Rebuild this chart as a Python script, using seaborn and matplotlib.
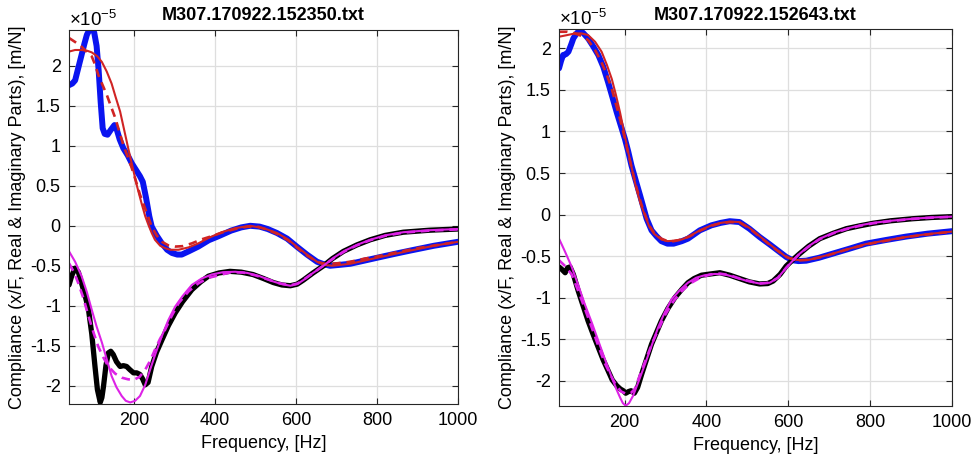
import numpy as np
import matplotlib
matplotlib.use("Agg")
import matplotlib.pyplot as plt
import seaborn as sns
from matplotlib.ticker import FuncFormatter, FixedLocator

# ---------------- data (compliance values in units of 1e-5 m/N) ----------------
# left file: M307.170922.152350.txt
L_titl = "M307.170922.152350.txt"

L_meas_re_f = [40, 48, 55, 63, 71, 78, 84, 90, 96, 102, 108, 113, 118, 123, 128, 135, 143, 152, 158, 165,
               174, 185, 195, 205, 215, 222, 230, 238, 244, 256, 269, 282, 294, 307, 318, 335, 359, 385, 409,
               440, 465, 487, 510, 530, 553, 578, 602, 627, 652, 668, 684, 705, 734, 765, 800, 840, 882, 940, 1000]
L_meas_re = [1.76, 1.78, 1.82, 1.98, 2.14, 2.28, 2.39, 2.45, 2.46, 2.42, 2.25, 1.95, 1.55, 1.22, 1.15, 1.14,
             1.20, 1.26, 1.20, 1.08, 0.97, 0.88, 0.78, 0.70, 0.62, 0.55, 0.35, 0.12, -0.01, -0.12, -0.22, -0.30,
             -0.34, -0.36, -0.36, -0.32, -0.26, -0.18, -0.13, -0.06, -0.02, 0.0, -0.01, -0.04, -0.09, -0.16,
             -0.26, -0.36, -0.45, -0.48, -0.50, -0.49, -0.475, -0.44, -0.40, -0.355, -0.31, -0.25, -0.20]

L_fit_re_f = [40, 55, 70, 85, 96, 110, 121, 133, 145, 155, 166, 176, 186, 197, 207, 219, 228, 236, 244, 252,
              265, 277, 290, 310, 335, 359, 385, 417, 450, 487, 520, 553, 580, 602, 627, 652, 670, 690, 734,
              800, 882, 940, 1000]
L_fit_re = [2.18, 2.20, 2.20, 2.19, 2.17, 2.12, 2.05, 1.93, 1.78, 1.61, 1.43, 1.20, 0.97, 0.73, 0.51, 0.28,
            0.12, 0.01, -0.09, -0.175, -0.25, -0.28, -0.30, -0.30, -0.27, -0.22, -0.15, -0.08, -0.03, 0.0,
            -0.03, -0.09, -0.17, -0.26, -0.36, -0.45, -0.49, -0.50, -0.475, -0.40, -0.31, -0.25, -0.20]

L_fit2_re_f = [40, 55, 71, 85, 96, 104, 112, 122, 133, 143, 154, 164, 174, 185, 195, 205, 215, 226, 236, 244,
               256, 269, 285, 302, 320, 343, 367, 392, 420, 450, 480, 505, 530, 553, 580, 602, 627, 652, 675,
               700, 734, 770, 800, 850, 900, 950, 1000]
L_fit2_re = [2.35, 2.30, 2.24, 2.17, 2.12, 2.02, 1.89, 1.77, 1.64, 1.50, 1.35, 1.18, 1.01, 0.86, 0.72, 0.56,
             0.39, 0.24, 0.10, -0.01, -0.12, -0.20, -0.245, -0.26, -0.255, -0.22, -0.17, -0.13, -0.08, -0.04,
             -0.01, -0.01, -0.05, -0.10, -0.18, -0.27, -0.37, -0.45, -0.48, -0.47, -0.45, -0.41, -0.385,
             -0.33, -0.28, -0.24, -0.20]

L_meas_im_f = [40, 47, 55, 63, 71, 80, 88, 96, 104, 110, 117, 121, 125, 131, 137, 143, 149, 157, 166, 174,
               182, 190, 199, 207, 215, 222, 228, 235, 244, 256, 269, 285, 302, 320, 343, 365, 384, 410, 437,
               465, 494, 520, 544, 565, 586, 603, 618, 642, 668, 690, 717, 750, 783, 820, 865, 930, 1000]
L_meas_im = [-0.74, -0.62, -0.53, -0.58, -0.72, -0.88, -1.05, -1.35, -1.76, -2.05, -2.21, -2.15, -2.01, -1.75,
             -1.59, -1.57, -1.61, -1.70, -1.76, -1.75, -1.76, -1.80, -1.84, -1.84, -1.86, -1.92, -1.99, -1.96,
             -1.76, -1.58, -1.43, -1.25, -1.09, -0.95, -0.80, -0.70, -0.63, -0.59, -0.57, -0.58, -0.61, -0.66,
             -0.71, -0.74, -0.75, -0.73, -0.68, -0.59, -0.50, -0.41, -0.32, -0.24, -0.175, -0.12, -0.08,
             -0.055, -0.04]

L_fit_im_f = [40, 55, 71, 84, 96, 108, 121, 133, 145, 157, 170, 180, 191, 203, 215, 228, 240, 254, 269, 285,
              302, 320, 343, 367, 392, 420, 450, 480, 510, 540, 565, 586, 603, 618, 642, 668, 690, 717, 750,
              783, 820, 865, 930, 1000]
L_fit_im = [-0.32, -0.45, -0.63, -0.83, -1.05, -1.26, -1.46, -1.67, -1.88, -2.02, -2.13, -2.19, -2.21, -2.19,
            -2.13, -1.99, -1.80, -1.59, -1.38, -1.18, -1.01, -0.88, -0.74, -0.66, -0.61, -0.58, -0.575, -0.59,
            -0.63, -0.69, -0.73, -0.75, -0.73, -0.68, -0.59, -0.50, -0.41, -0.32, -0.24, -0.175, -0.12, -0.08,
            -0.055, -0.04]

L_fit2_im_f = [40, 52, 63, 75, 88, 100, 112, 125, 137, 154, 170, 185, 199, 214, 228, 240, 252, 264, 277, 293,
               310, 335, 359, 385, 409, 440, 470, 500, 530, 560, 586, 605, 620, 645, 670, 695, 720, 750, 783,
               820, 865, 930, 1000]
L_fit2_im = [-0.47, -0.58, -0.72, -0.90, -1.13, -1.33, -1.51, -1.65, -1.76, -1.85, -1.90, -1.92, -1.93, -1.89,
             -1.80, -1.69, -1.55, -1.42, -1.30, -1.13, -0.97, -0.82, -0.72, -0.65, -0.62, -0.58, -0.585, -0.62,
             -0.67, -0.72, -0.745, -0.72, -0.67, -0.58, -0.49, -0.40, -0.32, -0.245, -0.18, -0.125, -0.085,
             -0.06, -0.045]

# right file: M307.170922.152643.txt
R_titl = "M307.170922.152643.txt"

R_meas_re_f = [40, 45, 50, 57, 63, 70, 75, 83, 91, 100, 111, 124, 136, 148, 160, 170, 181, 191, 201, 209, 217,
               228, 238, 246, 254, 266, 278, 290, 305, 320, 340, 355, 384, 412, 435, 457, 481, 505, 530, 555,
               579, 595, 611, 625, 644, 675, 709, 750, 790, 840, 888, 940, 1000]
R_meas_re = [1.76, 1.85, 1.92, 1.93, 1.96, 2.05, 2.12, 2.18, 2.22, 2.18, 2.12, 2.02, 1.92, 1.78, 1.59, 1.42,
             1.23, 1.07, 0.91, 0.76, 0.59, 0.40, 0.23, 0.09, -0.05, -0.19, -0.26, -0.32, -0.35, -0.35, -0.32,
             -0.29, -0.19, -0.13, -0.10, -0.08, -0.09, -0.17, -0.27, -0.36, -0.45, -0.51, -0.55, -0.56, -0.555,
             -0.52, -0.47, -0.41, -0.35, -0.305, -0.265, -0.23, -0.20]

R_fit_re_f = [40, 60, 79, 95, 111, 128, 144, 157, 169, 179, 189, 199, 209, 219, 229, 240, 250, 260, 272, 290,
              305, 320, 340, 355, 384, 412, 435, 457, 481, 505, 530, 555, 579, 595, 611, 630, 650, 675, 709,
              750, 790, 840, 888, 940, 1000]
R_fit_re = [2.14, 2.16, 2.18, 2.18, 2.16, 2.08, 1.96, 1.80, 1.63, 1.44, 1.23, 0.99, 0.75, 0.53, 0.31, 0.12,
            -0.01, -0.14, -0.23, -0.30, -0.32, -0.315, -0.30, -0.27, -0.19, -0.13, -0.10, -0.085, -0.09, -0.16,
            -0.26, -0.36, -0.45, -0.51, -0.54, -0.55, -0.545, -0.515, -0.47, -0.41, -0.355, -0.31, -0.27,
            -0.235, -0.205]

R_fit2_re_f = [40, 60, 79, 95, 111, 128, 144, 157, 169, 179, 189, 199, 209, 219, 229, 240, 250, 260, 272, 290,
               305, 320, 340, 360, 384, 412, 435, 457, 481, 505, 530, 555, 579, 600, 625, 650, 690, 750, 800,
               888, 1000]
R_fit2_re = [2.20, 2.20, 2.18, 2.15, 2.10, 1.98, 1.83, 1.68, 1.51, 1.33, 1.15, 0.95, 0.74, 0.53, 0.33, 0.14,
             0.0, -0.13, -0.22, -0.29, -0.32, -0.32, -0.30, -0.26, -0.195, -0.135, -0.105, -0.09, -0.095,
             -0.165, -0.265, -0.365, -0.455, -0.52, -0.55, -0.545, -0.50, -0.41, -0.35, -0.27, -0.205]

R_meas_im_f = [40, 47, 55, 61, 67, 75, 87, 99, 111, 124, 136, 148, 160, 170, 181, 190, 197, 203, 210, 216,
               224, 232, 242, 254, 266, 278, 290, 306, 323, 340, 355, 370, 388, 410, 433, 457, 481, 505, 530,
               550, 563, 580, 595, 612, 628, 650, 677, 710, 742, 775, 807, 850, 904, 950, 1000]
R_meas_im = [-0.63, -0.66, -0.70, -0.64, -0.63, -0.72, -0.92, -1.10, -1.28, -1.45, -1.60, -1.75, -1.88, -1.99,
             -2.06, -2.10, -2.12, -2.15, -2.13, -2.12, -2.15, -2.08, -1.92, -1.74, -1.56, -1.42, -1.28, -1.13,
             -1.00, -0.90, -0.82, -0.77, -0.73, -0.715, -0.70, -0.73, -0.77, -0.81, -0.835, -0.83, -0.80,
             -0.72, -0.62, -0.54, -0.47, -0.38, -0.29, -0.225, -0.17, -0.135, -0.105, -0.075, -0.05, -0.035,
             -0.025]

R_fit_im_f = [40, 55, 71, 87, 103, 120, 136, 152, 169, 180, 189, 196, 203, 211, 221, 235, 250, 266, 282, 298,
              315, 335, 355, 375, 396, 420, 445, 470, 500, 530, 555, 575, 595, 612, 628, 650, 677, 710, 742,
              775, 807, 850, 904, 950, 1000]
R_fit_im = [-0.29, -0.45, -0.63, -0.85, -1.08, -1.30, -1.52, -1.74, -1.96, -2.10, -2.20, -2.27, -2.30, -2.27,
            -2.18, -2.00, -1.80, -1.58, -1.36, -1.18, -1.02, -0.91, -0.82, -0.76, -0.73, -0.715, -0.72, -0.755,
            -0.80, -0.83, -0.82, -0.76, -0.64, -0.55, -0.47, -0.38, -0.29, -0.22, -0.17, -0.13, -0.10, -0.075,
            -0.05, -0.035, -0.025]

R_fit2_im_f = [40, 55, 71, 87, 103, 120, 136, 152, 169, 180, 192, 205, 215, 225, 240, 254, 270, 285, 300, 320,
               340, 360, 385, 410, 433, 457, 481, 505, 530, 555, 575, 595, 612, 628, 650, 677, 710, 742, 775,
               807, 850, 904, 950, 1000]
R_fit2_im = [-0.55, -0.62, -0.72, -0.92, -1.13, -1.36, -1.58, -1.79, -1.96, -2.06, -2.13, -2.16, -2.15, -2.10,
             -1.90, -1.72, -1.52, -1.36, -1.20, -1.04, -0.92, -0.83, -0.76, -0.72, -0.71, -0.73, -0.77, -0.80,
             -0.83, -0.82, -0.76, -0.64, -0.55, -0.47, -0.385, -0.295, -0.225, -0.175, -0.135, -0.105, -0.078,
             -0.052, -0.037, -0.027]

x_ticks = [200, 400, 600, 800, 1000]
y_ticks = [-2, -1.5, -1, -0.5, 0, 0.5, 1, 1.5, 2]

# ---------------- style ----------------
sns.set_theme(style="whitegrid")
plt.rcParams["font.family"] = ["Liberation Sans", "DejaVu Sans"]
plt.rcParams["axes.unicode_minus"] = False
plt.rcParams["mathtext.fontset"] = "custom"
plt.rcParams["mathtext.rm"] = "Liberation Sans"
plt.rcParams["text.color"] = "black"
plt.rcParams["axes.labelcolor"] = "black"

BLUE = "#0a14f0"
BLACK = "#000000"
RED = "#d02424"
MAG = "#dd22e6"


def draw_panel(ax, titl, ylim, curves):
    (mre_f, mre, fre_f, fre, f2re_f, f2re, mim_f, mim, fim_f, fim, f2im_f, f2im) = curves
    # measured (thick)
    sns.lineplot(x=mre_f, y=mre, ax=ax, color=BLUE, linewidth=4.3, sort=False, estimator=None)
    sns.lineplot(x=mim_f, y=mim, ax=ax, color=BLACK, linewidth=3.8, sort=False, estimator=None)
    # fits
    sns.lineplot(x=fre_f, y=fre, ax=ax, color=RED, linewidth=1.5, sort=False, estimator=None)
    sns.lineplot(x=f2re_f, y=f2re, ax=ax, color=RED, linewidth=1.9, linestyle=(0, (3.2, 2.2)),
                 sort=False, estimator=None)
    sns.lineplot(x=fim_f, y=fim, ax=ax, color=MAG, linewidth=1.5, sort=False, estimator=None)
    sns.lineplot(x=f2im_f, y=f2im, ax=ax, color=MAG, linewidth=1.9, linestyle=(0, (3.2, 2.2)),
                 sort=False, estimator=None)

    ax.set_xlim(40, 1000)
    ax.set_ylim(*ylim)
    ax.xaxis.set_major_locator(FixedLocator(x_ticks))
    ax.yaxis.set_major_locator(FixedLocator(y_ticks))
    ax.yaxis.set_major_formatter(FuncFormatter(lambda v, p: "%g" % v))
    ax.grid(True, color="#dedede", linewidth=0.9)
    ax.tick_params(direction="in", length=4, width=0.8, colors="#262626", labelsize=13,
                   top=True, right=True, left=True, bottom=True, pad=6)
    ax.tick_params(axis="both", labelcolor="black")
    for s in ax.spines.values():
        s.set_color("#262626")
        s.set_linewidth(0.8)
    ax.set_title(titl, fontsize=13, fontweight="bold", pad=7, color="black")
    ax.set_xlabel("Frequency, [Hz]", fontsize=13, labelpad=4)
    ax.set_ylabel("Compliance (x/F, Real & Imaginary Parts), [m/N]", fontsize=13, labelpad=3)
    ax.text(0.0, 1.0, r"$\times10^{-5}$", transform=ax.transAxes, ha="left", va="bottom", fontsize=13.5)


fig = plt.figure(figsize=(9.78, 4.63), dpi=100)
ax1 = fig.add_axes([0.0706, 0.1274, 0.3978, 0.8078])
ax2 = fig.add_axes([0.5716, 0.1238, 0.4018, 0.8130])

draw_panel(ax1, L_titl, (-2.23, 2.45),
           (L_meas_re_f, L_meas_re, L_fit_re_f, L_fit_re, L_fit2_re_f, L_fit2_re,
            L_meas_im_f, L_meas_im, L_fit_im_f, L_fit_im, L_fit2_im_f, L_fit2_im))
draw_panel(ax2, R_titl, (-2.30, 2.23),
           (R_meas_re_f, R_meas_re, R_fit_re_f, R_fit_re, R_fit2_re_f, R_fit2_re,
            R_meas_im_f, R_meas_im, R_fit_im_f, R_fit_im, R_fit2_im_f, R_fit2_im))

fig.savefig("out.png", dpi=100, facecolor="white")
